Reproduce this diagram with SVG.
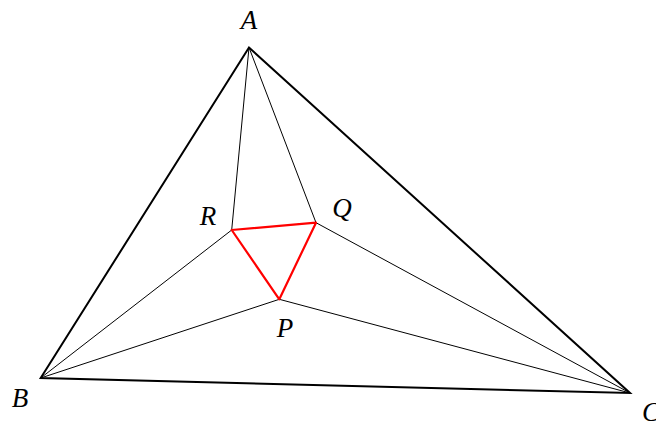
<svg xmlns="http://www.w3.org/2000/svg" width="656" height="423" viewBox="0 0 656 423">
<style>
.outer{fill:none;stroke:#000;stroke-width:2;stroke-linejoin:miter}
.thin{fill:none;stroke:#000;stroke-width:1}
.red{fill:none;stroke:#ff0000;stroke-width:2.2;stroke-linejoin:round}
.lbl{font-family:"Liberation Serif",serif;font-style:italic;font-size:27px;fill:#000;text-anchor:middle}
</style>
<rect width="656" height="423" fill="#fff"/>
<g id="connectors">
<polygon class="outer" points="249,47.5 40.7,378 630,393"/>
<line class="thin" x1="249" y1="47.5" x2="231.7" y2="230"/>
<line class="thin" x1="249" y1="47.5" x2="316" y2="222.7"/>
<line class="thin" x1="40.7" y1="378" x2="231.7" y2="230"/>
<line class="thin" x1="40.7" y1="378" x2="279.3" y2="299.3"/>
<line class="thin" x1="630" y1="393" x2="316" y2="222.7"/>
<line class="thin" x1="630" y1="393" x2="279.3" y2="299.3"/>
<polygon class="red" points="231.7,230 316,222.7 279.3,299.3"/>
</g>
<g id="A"><text class="lbl" x="249" y="29">A</text></g>
<g id="B"><text class="lbl" x="20" y="407">B</text></g>
<g id="C"><text class="lbl" x="651" y="421">C</text></g>
<g id="R"><text class="lbl" x="208" y="225">R</text></g>
<g id="Q"><text class="lbl" x="342" y="217">Q</text></g>
<g id="P"><text class="lbl" x="285" y="337">P</text></g>
</svg>
